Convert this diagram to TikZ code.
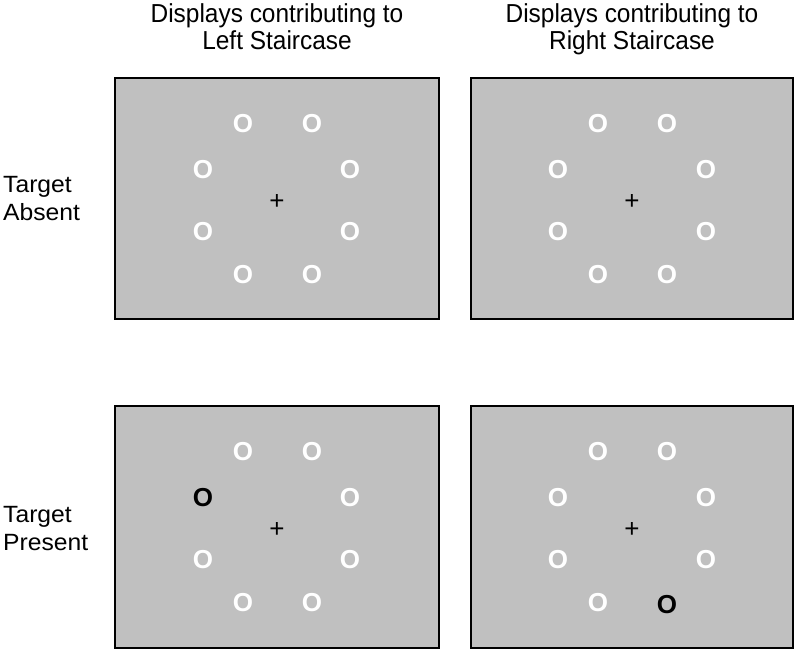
\documentclass[tikz,border=0pt]{standalone}
\usepackage{fontspec}
\setmainfont{Liberation Sans}
\newfontfamily\headfont[FakeStretch=0.94]{Liberation Sans}
\newfontfamily\labfont[FakeStretch=1.05]{Liberation Sans}
\begin{document}
\begin{tikzpicture}[x=1pt,y=-1pt,
  panel/.style={draw=black,line width=2pt,fill={rgb,255:red,192;green,192;blue,192}},
  ring/.style={font=\fontsize{26}{26}\selectfont\bfseries,text=white,inner sep=0pt},
  targ/.style={font=\fontsize{26}{26}\selectfont\bfseries,text=black,inner sep=0pt},
  fix/.style={font=\fontsize{26}{26}\selectfont,inner sep=0pt},
  head/.style={font=\headfont\fontsize{26}{26}\selectfont,inner sep=0pt,anchor=base},
  rowlab/.style={font=\labfont\fontsize{23.5}{24}\selectfont,inner sep=0pt,anchor=base west}]
\useasboundingbox (0,0) rectangle (800,655);
\node[head] (h1a) at (277,23) {Displays contributing to};
\node[head] (h1b) at (277,50) {Left Staircase};
\node[head] (h2a) at (632,23) {Displays contributing to};
\node[head] (h2b) at (632,50) {Right Staircase};
\node[rowlab] (r1a) at (3,193) {Target};
\node[rowlab] (r1b) at (3,220) {Absent};
\node[rowlab] (r2a) at (3,522) {Target};
\node[rowlab] (r2b) at (3,550) {Present};
\draw[panel] (115,78) rectangle (439,319);
\draw[panel] (471,78) rectangle (793,319);
\draw[panel] (115,406) rectangle (439,648);
\draw[panel] (471,406) rectangle (793,648);
% top-left
\node[fix] (f1) at (277,202) {+};
\node[ring] (a1) at (243,124) {O};
\node[ring] (a2) at (312,124) {O};
\node[ring] (a3) at (203,170) {O};
\node[ring] (a4) at (350,170) {O};
\node[ring] (a5) at (203,232) {O};
\node[ring] (a6) at (350,232) {O};
\node[ring] (a7) at (243,275) {O};
\node[ring] (a8) at (312,275) {O};
% top-right
\node[fix] (f2) at (632,202) {+};
\node[ring] (b1) at (598,124) {O};
\node[ring] (b2) at (667,124) {O};
\node[ring] (b3) at (558,170) {O};
\node[ring] (b4) at (706,170) {O};
\node[ring] (b5) at (558,232) {O};
\node[ring] (b6) at (706,232) {O};
\node[ring] (b7) at (598,275) {O};
\node[ring] (b8) at (667,275) {O};
% bottom-left
\node[fix] (f3) at (277,530) {+};
\node[ring] (c1) at (243,452) {O};
\node[ring] (c2) at (312,452) {O};
\node[targ] (c3) at (203,498) {O};
\node[ring] (c4) at (350,498) {O};
\node[ring] (c5) at (203,560) {O};
\node[ring] (c6) at (350,560) {O};
\node[ring] (c7) at (243,603) {O};
\node[ring] (c8) at (312,603) {O};
% bottom-right
\node[fix] (f4) at (632,530) {+};
\node[ring] (d1) at (598,452) {O};
\node[ring] (d2) at (667,452) {O};
\node[ring] (d3) at (558,498) {O};
\node[ring] (d4) at (706,498) {O};
\node[ring] (d5) at (558,560) {O};
\node[ring] (d6) at (706,560) {O};
\node[ring] (d7) at (598,603) {O};
\node[targ] (d8) at (667,605) {O};
\end{tikzpicture}
\end{document}
